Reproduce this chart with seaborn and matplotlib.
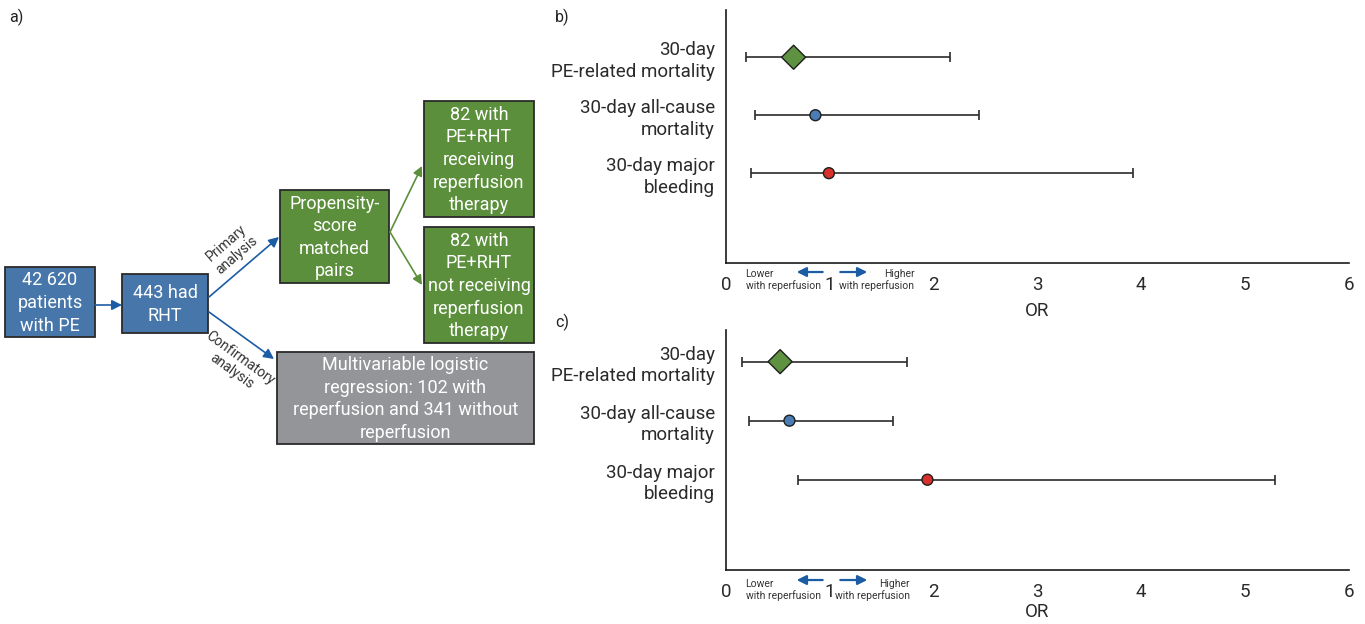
import matplotlib
matplotlib.use("Agg")
import matplotlib.pyplot as plt
import matplotlib.transforms as mtransforms
from matplotlib.patches import Rectangle
import numpy as np
import pandas as pd
import seaborn as sns

# --- datos ---
outcomes = ["30-day\nPE-related mortality", "30-day all-cause\nmortality", "30-day major\nbleeding"]
shapes = ["diamond", "circle", "circle"]
or_b = [0.65, 0.86, 0.99]
lo_b = [0.19, 0.28, 0.24]
hi_b = [2.16, 2.44, 3.92]
or_c = [0.52, 0.61, 1.94]
lo_c = [0.15, 0.22, 0.69]
hi_c = [1.74, 1.61, 5.29]
x_ticks = [0, 1, 2, 3, 4, 5, 6]

box_texts = [
    "42 620\npatients\nwith PE",
    "443 had\nRHT",
    "Propensity-\nscore\nmatched\npairs",
    "82 with\nPE+RHT\nreceiving\nreperfusion\ntherapy",
    "82 with\nPE+RHT\nnot receiving\nreperfusion\ntherapy",
    "Multivariable logistic\nregression: 102 with\nreperfusion and 341 without\nreperfusion",
]

sns.set_theme(style="white")
plt.rcParams["font.family"] = ["Roboto", "DejaVu Sans"]

BLUE = "#4676aa"
GREEN = "#5b8f3b"
GREY = "#939598"
ARROW_BLUE = "#1c5ca4"
colores = {outcomes[0]: "#5e9140", outcomes[1]: "#4a7db6", outcomes[2]: "#d8302b"}

fig = plt.figure(figsize=(13.65, 6.24), dpi=100)

# --- panel a: diagrama de flujo (coordenadas en pixeles) ---
ax_a = fig.add_axes([0, 0, 0.41, 1])
ax_a.set_xlim(0, 0.41 * 1365)
ax_a.set_ylim(624, 0)
ax_a.axis("off")
ax_a.text(9, 17, "a)", fontsize=11.5, va="center", ha="left", color="#222")

cajas = [  # x0, y0, x1, y1, color
    (5, 267, 95, 337, BLUE),
    (122, 274, 208, 333, BLUE),
    (280, 190, 389, 283, GREEN),
    (424, 101, 534, 217, GREEN),
    (424, 227, 534, 343, GREEN),
    (277, 352, 534, 444, GREY),
]
for (x0, y0, x1, y1, c), t in zip(cajas, box_texts):
    ax_a.add_patch(Rectangle((x0, y0), x1 - x0, y1 - y0, facecolor=c,
                             edgecolor="#2a2a2a", lw=1.3))
    ax_a.text((x0 + x1) / 2, (y0 + y1) / 2 + 1, t, ha="center", va="center",
              color="white", fontsize=13, linespacing=1.33)

def flecha(p0, p1, color, ms=15, lw=1.2):
    ax_a.annotate("", xy=p1, xytext=p0,
                  arrowprops=dict(arrowstyle="-|>", color=color, lw=lw,
                                  mutation_scale=ms, shrinkA=0, shrinkB=0))

flecha((95, 305), (122, 305), ARROW_BLUE)
flecha((209, 297), (279, 237), ARROW_BLUE)
flecha((209, 312), (274, 359), ARROW_BLUE)
flecha((390, 232), (422, 166), GREEN, ms=14)
flecha((390, 232), (422, 285), GREEN, ms=14)

ax_a.text(232, 249, "Primary\nanalysis", rotation=41, ha="center", va="center",
          fontsize=10, color="#333", linespacing=1.15, rotation_mode="anchor")
ax_a.text(236, 365, "Confirmatory\nanalysis", rotation=-36, ha="center", va="center",
          fontsize=10, color="#333", linespacing=1.15, rotation_mode="anchor")

# --- paneles b y c: forest plots ---
def forest(ax, ors, los, his, ylim, y_arrow, y_text, higher_x, labelpad):
    df = pd.DataFrame({"outcome": outcomes, "pos": [0, 1, 2], "OR": ors,
                       "lo": los, "hi": his, "shape": shapes})
    ax.errorbar(df["OR"], df["pos"],
                xerr=[df["OR"] - df["lo"], df["hi"] - df["OR"]],
                fmt="none", ecolor="#2b2b2b", elinewidth=1.2, capsize=3.5,
                capthick=1.2, zorder=1)
    sns.scatterplot(data=df, x="OR", y="pos", hue="outcome", palette=colores,
                    style="shape", markers={"diamond": "D", "circle": "o"},
                    size="shape", sizes={"diamond": 150, "circle": 62},
                    edgecolor="#1e1e1e", linewidth=1.0, legend=False, zorder=3, ax=ax)
    ax.set_xlim(0, 6)
    ax.set_ylim(*ylim)
    ax.set_xticks(x_ticks)
    ax.set_yticks([0, 1, 2])
    ax.set_yticklabels(outcomes, fontsize=13.5, color="#2a2a2a", linespacing=1.25,
                       multialignment="right")
    ax.set_xticklabels([str(v) for v in x_ticks], fontsize=13.5, color="#2a2a2a")
    ax.set_xlabel("OR", fontsize=13.5, color="#2a2a2a", labelpad=labelpad)
    ax.set_ylabel("")
    for s in ["top", "right"]:
        ax.spines[s].set_visible(False)
    for s in ["left", "bottom"]:
        ax.spines[s].set_color("#1a1a1a")
        ax.spines[s].set_linewidth(1.2)
    ax.tick_params(axis="x", direction="out", length=6, width=1.2, color="#1a1a1a", pad=3)
    ax.tick_params(axis="y", length=0, pad=8)

    tr_arrow = mtransforms.offset_copy(ax.get_xaxis_transform(), fig=fig, y=-y_arrow, units="dots")
    tr_text = mtransforms.offset_copy(ax.get_xaxis_transform(), fig=fig, y=-y_text, units="dots")
    ax.annotate("", xy=(0.68, 0), xytext=(0.93, 0), xycoords=tr_arrow, textcoords=tr_arrow,
                arrowprops=dict(arrowstyle="-|>", color=ARROW_BLUE, lw=1.6,
                                mutation_scale=14, shrinkA=0, shrinkB=0),
                annotation_clip=False)
    ax.annotate("", xy=(1.36, 0), xytext=(1.1, 0), xycoords=tr_arrow, textcoords=tr_arrow,
                arrowprops=dict(arrowstyle="-|>", color=ARROW_BLUE, lw=1.6,
                                mutation_scale=14, shrinkA=0, shrinkB=0),
                annotation_clip=False)
    ax.text(0.91, 0, "Lower\nwith reperfusion", transform=tr_text, ha="right", va="center",
            fontsize=7.5, color="#333", multialignment="left", linespacing=1.15)
    ax.text(higher_x, 0, "Higher\nwith reperfusion", transform=tr_text, ha="left", va="center",
            fontsize=7.5, color="#333", multialignment="right", linespacing=1.15)

ax_b = fig.add_axes([0.532, 0.5785, 0.456, 0.405])
forest(ax_b, or_b, lo_b, hi_b, (3.55, -0.81), 9, 17, 1.09, 6)
ax_c = fig.add_axes([0.532, 0.0865, 0.456, 0.385])
forest(ax_c, or_c, lo_c, hi_c, (3.53, -0.54), 10, 20, 1.05, 2)

fig.text(555 / 1365, 1 - 17 / 624, "b)", fontsize=11.5, va="center", color="#222")
fig.text(555 / 1365, 1 - 322 / 624, "c)", fontsize=11.5, va="center", color="#222")

fig.savefig("out.png", dpi=100)
